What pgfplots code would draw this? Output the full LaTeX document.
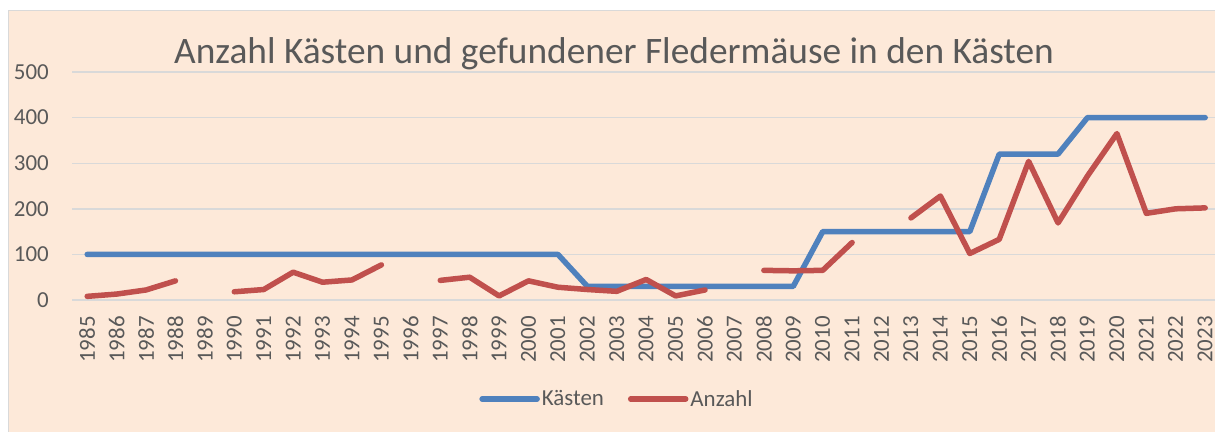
\documentclass[border=0pt]{standalone}
\usepackage{fontspec}
\setmainfont{Carlito}
\usepackage{pgfplots}
\pgfplotsset{compat=1.18}
\definecolor{bgc}{HTML}{FDE9D9}
\definecolor{txt}{HTML}{595959}
\definecolor{gridc}{HTML}{D9D9D9}
\definecolor{blu}{HTML}{4F81BD}
\definecolor{rd}{HTML}{C0504D}
\begin{document}
\begin{tikzpicture}
\fill[white] (-72.5bp,-132bp) rectangle (1142.5bp,300bp);
\filldraw[fill=bgc, draw=gridc, line width=1.5bp] (-64bp,-145bp) rectangle (1155bp,289.5bp);
\begin{axis}[
  at={(0,0)}, anchor=south west, scale only axis,
  width=1147.4bp, height=228bp,
  xmin=1984.5, xmax=2023.5, ymin=0, ymax=500,
  xtick={1985,...,2023}, ytick={0,100,...,500},
  /pgf/number format/1000 sep={},
  /pgf/number format/assume math mode=true,
  axis line style={draw=none}, major tick length=0pt, tick style={draw=none},
  ymajorgrids, major grid style={gridc, line width=1.4bp},
  ticklabel style={font=\fontsize{23}{27}\selectfont, text=txt, inner sep=0pt},
  yticklabel style={anchor=east}, yticklabel shift=23.5bp,
  xticklabel style={rotate=90, anchor=east}, xticklabel shift=16bp,
  unbounded coords=jump,
  legend style={at={(0.4746,-0.434)}, anchor=center, legend columns=2, draw=none, fill=none,
    font=\fontsize{23}{27}\selectfont, text=txt, inner sep=0pt,
    /tikz/every even column/.append style={column sep=22bp},
    nodes={inner sep=2bp}},
  legend image code/.code={\draw[#1, line cap=round] (0bp,0bp) -- (55bp,0bp);},
  every axis plot/.append style={line width=5.5bp, line cap=round, line join=round, mark=none},
]
\addplot[blu] coordinates {
(1985,100)(1986,100)(1987,100)(1988,100)(1989,100)(1990,100)(1991,100)(1992,100)(1993,100)(1994,100)
(1995,100)(1996,100)(1997,100)(1998,100)(1999,100)(2000,100)(2001,100)(2002,30)(2003,30)(2004,30)
(2005,30)(2006,30)(2007,30)(2008,30)(2009,30)(2010,150)(2011,150)(2012,150)(2013,150)(2014,150)
(2015,150)(2016,320)(2017,320)(2018,320)(2019,400)(2020,400)(2021,400)(2022,400)(2023,400)
};
\addlegendentry{Kästen}
\addplot[rd] coordinates {
(1985,8)(1986,13)(1987,22)(1988,42)(1989,nan)(1990,18)(1991,23)(1992,61)(1993,39)(1994,44)
(1995,77)(1996,nan)(1997,43)(1998,50)(1999,9)(2000,42)(2001,28)(2002,23)(2003,19)(2004,45)
(2005,9)(2006,22)(2007,nan)(2008,65)(2009,64)(2010,65)(2011,126)(2012,nan)(2013,180)(2014,228)
(2015,102)(2016,133)(2017,304)(2018,169)(2019,272)(2020,365)(2021,190)(2022,200)(2023,202)
};
\addlegendentry{Anzahl}
\end{axis}
\node[anchor=base, font=\fontsize{37.5}{44}\selectfont, text=txt, inner sep=0pt] at (541.5bp,236bp) {Anzahl Kästen und gefundener Fledermäuse in den Kästen};
\pgfresetboundingbox
\useasboundingbox (-72.5bp,-132bp) rectangle (1142.5bp,300bp);
\end{tikzpicture}
\end{document}
